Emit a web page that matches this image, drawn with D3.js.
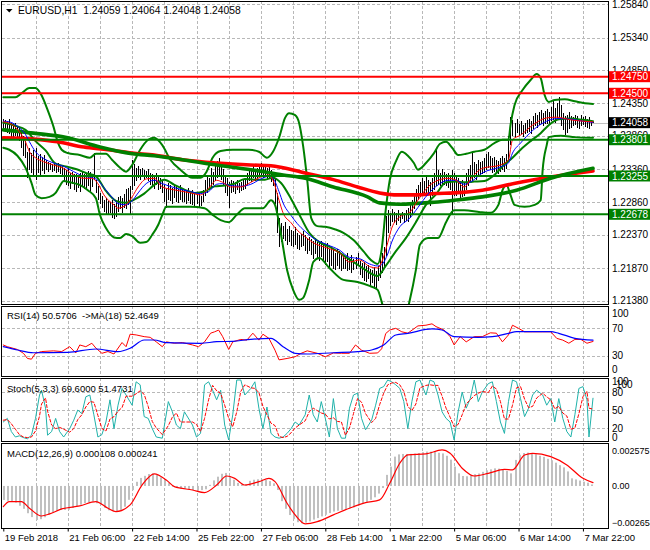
<!DOCTYPE html>
<html lang="en">
<head>
<meta charset="UTF-8">
<title>EURUSD,H1</title>
<script src="https://d3js.org/d3.v7.min.js"></script>
<style>
  body { margin: 0; background: #fff; }
  svg { display: block; font-family: "Liberation Sans", Arial, sans-serif; }
</style>
</head>
<body>
<svg id="chart" width="650" height="550"></svg>
<script>
// ---- price bars (H1, one entry per bar) ----
const barHigh = [
  1.2411,1.2410,1.2409,1.2411,1.2406,1.2404,1.2405,1.2400,1.2398,1.2392,
  1.2386,1.2378,1.2362,1.2368,1.2360,1.2364,1.2368,1.2356,1.2358,1.2354,
  1.2357,1.2350,1.2346,1.2345,1.2343,1.2344,1.2342,1.2345,1.2340,1.2341,
  1.2337,1.2334,1.2338,1.2330,1.2332,1.2328,1.2329,1.2326,1.2330,1.2332,
  1.2328,1.2330,1.2333,1.2331,1.2327,1.2360,1.2319,1.2310,1.2300,1.2296,
  1.2290,1.2292,1.2288,1.2286,1.2290,1.2284,1.2288,1.2294,1.2296,1.2292,
  1.2298,1.2306,1.2308,1.2310,1.2350,1.2344,1.2338,1.2340,1.2336,1.2337,
  1.2335,1.2333,1.2336,1.2330,1.2328,1.2326,1.2330,1.2324,1.2322,1.2320,
  1.2312,1.2306,1.2315,1.2312,1.2308,1.2314,1.2310,1.2306,1.2312,1.2308,
  1.2306,1.2304,1.2308,1.2302,1.2305,1.2300,1.2298,1.2302,1.2296,1.2305,
  1.2320,1.2326,1.2322,1.2338,1.2332,1.2342,1.2348,1.2352,1.2345,1.2336,
  1.2326,1.2322,1.2316,1.2320,1.2318,1.2316,1.2319,1.2315,1.2317,1.2320,
  1.2322,1.2330,1.2338,1.2334,1.2340,1.2336,1.2338,1.2342,1.2345,1.2340,
  1.2344,1.2338,1.2341,1.2335,1.2328,1.2322,1.2300,1.2262,1.2254,1.2250,
  1.2256,1.2246,1.2250,1.2244,1.2242,1.2248,1.2240,1.2236,1.2238,1.2242,
  1.2236,1.2232,1.2234,1.2230,1.2228,1.2232,1.2226,1.2224,1.2228,1.2222,
  1.2220,1.2224,1.2216,1.2218,1.2214,1.2210,1.2216,1.2212,1.2208,1.2206,
  1.2204,1.2209,1.2202,1.2206,1.2200,1.2204,1.2210,1.2198,1.2194,1.2196,
  1.2190,1.2192,1.2186,1.2184,1.2188,1.2182,1.2190,1.2205,1.2210,1.2218,
  1.2265,1.2274,1.2270,1.2276,1.2272,1.2270,1.2275,1.2268,1.2272,1.2270,
  1.2274,1.2278,1.2282,1.2290,1.2300,1.2306,1.2312,1.2316,1.2322,1.2318,
  1.2324,1.2320,1.2316,1.2322,1.2330,1.2365,1.2334,1.2330,1.2336,1.2332,
  1.2328,1.2330,1.2326,1.2334,1.2330,1.2326,1.2322,1.2318,1.2320,1.2316,
  1.2330,1.2336,1.2342,1.2362,1.2346,1.2344,1.2350,1.2346,1.2348,1.2352,
  1.2358,1.2362,1.2356,1.2352,1.2354,1.2350,1.2348,1.2352,1.2356,1.2352,
  1.2358,1.2385,1.2414,1.2410,1.2406,1.2412,1.2404,1.2408,1.2402,1.2406,
  1.2410,1.2412,1.2408,1.2416,1.2420,1.2418,1.2422,1.2425,1.2420,1.2424,
  1.2426,1.2422,1.2430,1.2440,1.2428,1.2436,1.2444,1.2432,1.2420,1.2416,
  1.2418,1.2422,1.2416,1.2414,1.2418,1.2416,1.2412,1.2417,1.2414,1.2416,
  1.2412,1.2414,1.2410,1.24064
];
const barLow = [
  1.2396,1.2394,1.2390,1.2388,1.2382,1.2384,1.2386,1.2380,1.2378,1.2368,
  1.2355,1.2352,1.2322,1.2334,1.2330,1.2326,1.2319,1.2330,1.2327,1.2333,
  1.2328,1.2334,1.2332,1.2334,1.2331,1.2333,1.2330,1.2332,1.2328,1.2325,
  1.2318,1.2312,1.2310,1.2306,1.2313,1.2304,1.2302,1.2308,1.2301,1.2310,
  1.2306,1.2304,1.2310,1.2302,1.2309,1.2319,1.2300,1.2290,1.2284,1.2278,
  1.2272,1.2268,1.2266,1.2270,1.2262,1.2260,1.2264,1.2272,1.2276,1.2270,
  1.2278,1.2276,1.2282,1.2267,1.2304,1.2310,1.2318,1.2322,1.2320,1.2324,
  1.2320,1.2322,1.2318,1.2312,1.2310,1.2306,1.2312,1.2304,1.2306,1.2300,
  1.2286,1.2277,1.2290,1.2288,1.2284,1.2292,1.2286,1.2285,1.2290,1.2286,
  1.2286,1.2284,1.2288,1.2284,1.2282,1.2280,1.2284,1.2279,1.2280,1.2286,
  1.2295,1.2300,1.2304,1.2308,1.2312,1.2318,1.2322,1.2325,1.2320,1.2310,
  1.2300,1.2296,1.2277,1.2300,1.2302,1.2298,1.2304,1.2300,1.2303,1.2305,
  1.2306,1.2312,1.2318,1.2316,1.2322,1.2318,1.2320,1.2326,1.2324,1.2322,
  1.2324,1.2320,1.2322,1.2316,1.2310,1.2284,1.2240,1.2219,1.2226,1.2230,
  1.2228,1.2222,1.2226,1.2220,1.2218,1.2222,1.2216,1.2214,1.2218,1.2220,
  1.2212,1.2208,1.2212,1.2206,1.2200,1.2208,1.2202,1.2198,1.2204,1.2196,
  1.2192,1.2196,1.2188,1.2190,1.2186,1.2184,1.2190,1.2186,1.2182,1.2186,
  1.2186,1.2182,1.2184,1.2180,1.2184,1.2186,1.2190,1.2176,1.2172,1.2168,
  1.2166,1.2170,1.2160,1.2164,1.2156,1.2154,1.2168,1.2172,1.2180,1.2188,
  1.2205,1.2240,1.2250,1.2256,1.2254,1.2252,1.2258,1.2255,1.2260,1.2254,
  1.2258,1.2256,1.2262,1.2268,1.2276,1.2282,1.2290,1.2294,1.2298,1.2296,
  1.2300,1.2298,1.2280,1.2296,1.2304,1.2310,1.2312,1.2310,1.2314,1.2312,
  1.2310,1.2308,1.2304,1.2267,1.2296,1.2296,1.2298,1.2290,1.2294,1.2296,
  1.2304,1.2310,1.2316,1.2318,1.2322,1.2320,1.2326,1.2324,1.2328,1.2330,
  1.2334,1.2338,1.2334,1.2330,1.2332,1.2330,1.2328,1.2332,1.2334,1.2332,
  1.2336,1.2350,1.2372,1.2386,1.2384,1.2390,1.2386,1.2388,1.2384,1.2388,
  1.2390,1.2392,1.2388,1.2396,1.2400,1.2398,1.2402,1.2404,1.2400,1.2404,
  1.2404,1.2402,1.2408,1.2410,1.2406,1.2412,1.2414,1.2400,1.2394,1.2387,
  1.2390,1.2396,1.2398,1.2400,1.2402,1.2398,1.2396,1.2400,1.2402,1.2399,
  1.2398,1.2396,1.2400,1.24048
];
const title = "EURUSD,H1  1.24059 1.24064 1.24048 1.24058";
const bidPrice = 1.24058;

// horizontal levels drawn on the chart
const levelPrices = [1.24750, 1.24500, 1.23801, 1.23255, 1.22678];
const levelKinds  = ["res", "res", "sup", "sup", "sup"];

// price axis ticks
const priceTicks = [1.25840, 1.25340, 1.24850, 1.24350, 1.23860, 1.23360, 1.22860, 1.22370, 1.21870, 1.21380];

// time axis
const timeIdx = [0, 32, 64, 96, 128, 160, 192, 224, 256, 288];
const timeLabels = ["19 Feb 2018", "21 Feb 06:00", "22 Feb 14:00", "25 Feb 22:00", "27 Feb 06:00",
                    "28 Feb 14:00", "1 Mar 22:00", "5 Mar 06:00", "6 Mar 14:00", "7 Mar 22:00"];

// fast moving averages (thin red / thin blue)
const fastIdx = [0,3,8,11,13,16,20,25,30,35, 40,44,47,50,55,57,61,64,67,71, 75,79,86,93,98,102,106,109,113,118,
  123,128,132,134,137,139,143,146,150,154, 161,167,172,177,182,186,188,191,193,197, 202,206,211,216,221,225,229,233,238,247,
  251,253,257,263,270,275,282,288,293];
const fastRed = [1.2407,1.2405,1.2392,1.2377,1.2362,1.2353,1.2347,1.2342,1.2337,1.2327,
  1.2322,1.2322,1.2314,1.2297,1.2282,1.2277,1.2282,1.2294,1.2309,1.2321,
  1.2322,1.2309,1.2304,1.2300,1.2297,1.2307,1.2319,1.2316,1.2309,1.2309,
  1.2316,1.2324,1.2327,1.2319,1.2289,1.2270,1.2255,1.2244,1.2234,1.2225,
  1.2217,1.2210,1.2196,1.2199,1.2189,1.2187,1.2196,1.2225,1.2247,1.2264,
  1.2271,1.2289,1.2309,1.2319,1.2322,1.2319,1.2309,1.2324,1.2337,1.2342,
  1.2350,1.2380,1.2387,1.2402,1.2413,1.2414,1.2410,1.2408,1.2407];
const fastBlue = [1.2408,1.2407,1.2398,1.2388,1.2377,1.2362,1.2352,1.2345,1.2340,1.2332,
  1.2325,1.2323,1.2319,1.2308,1.2290,1.2284,1.2282,1.2288,1.2300,1.2314,
  1.2319,1.2314,1.2307,1.2302,1.2299,1.2302,1.2313,1.2314,1.2311,1.2310,
  1.2313,1.2321,1.2325,1.2322,1.2302,1.2285,1.2266,1.2254,1.2242,1.2232,
  1.2222,1.2214,1.2203,1.2201,1.2193,1.2190,1.2192,1.2208,1.2226,1.2249,
  1.2262,1.2278,1.2298,1.2312,1.2319,1.2319,1.2313,1.2318,1.2330,1.2339,
  1.2345,1.2360,1.2375,1.2394,1.2408,1.2412,1.2411,1.2408,1.2406];

// Bollinger bands
const bbUpIdx = [0,6,9,13,16,19,22,25,27,29, 32,38,43,46,51,54,58,61,64,68, 72,75,79,83,88,94,98,101,104,108,
  114,122,127,131,134,137,140,142,145,147, 149,151,153,156,160,165,169,174,179,183, 186,188,190,192,195,198,201,204,206,210,
  214,217,220,223,226,230,234,239,244,248, 251,252,254,258,262,265,267,269,271,274, 279,284,289,293];
const bbUpVal = [1.2444,1.2444,1.2450,1.2458,1.2458,1.2447,1.2425,1.2399,1.2377,1.2365,
  1.2360,1.2357,1.2353,1.2359,1.2359,1.2350,1.2338,1.2332,1.2342,1.2365,
  1.2380,1.2383,1.2372,1.2350,1.2335,1.2323,1.2323,1.2332,1.2353,1.2363,
  1.2365,1.2365,1.2362,1.2353,1.2362,1.2383,1.2413,1.2420,1.2417,1.2405,
  1.2370,1.2320,1.2262,1.2250,1.2249,1.2245,1.2240,1.2229,1.2212,1.2198,
  1.2193,1.2215,1.2274,1.2319,1.2347,1.2362,1.2356,1.2345,1.2335,1.2345,
  1.2360,1.2374,1.2377,1.2368,1.2357,1.2359,1.2362,1.2365,1.2375,1.2380,
  1.2380,1.2402,1.2432,1.2455,1.2470,1.2479,1.2473,1.2447,1.2437,1.2440,
  1.2441,1.2438,1.2435,1.2434];
const bbMidIdx = [0,6,11,16,21,26,31,36,41,46, 51,56,61,65,70,75,80,85,90,95, 100,105,110,115,120,125,130,134,138,143,
  148,152,157,162,167,172,177,182,186,190, 195,200,205,210,215,220,225,229,234,239, 244,249,253,257,262,267,271,276,282,288, 293];
const bbMidVal = [1.2406,1.2401,1.2395,1.2378,1.2364,1.2344,1.2340,1.2336,1.2330,1.2325,
  1.2303,1.2288,1.2285,1.2290,1.2299,1.2312,1.2320,1.2312,1.2305,1.2300,
  1.2302,1.2310,1.2311,1.2314,1.2321,1.2320,1.2320,1.2323,1.2315,1.2291,
  1.2262,1.2240,1.2226,1.2219,1.2210,1.2200,1.2190,1.2180,1.2175,1.2190,
  1.2212,1.2232,1.2256,1.2282,1.2298,1.2316,1.2317,1.2316,1.2317,1.2318,
  1.2327,1.2343,1.2353,1.2365,1.2378,1.2390,1.2402,1.2411,1.2412,1.2410,
  1.2408];
const bbLoIdx = [0,3,7,11,14,16,19,23,26,28, 30,33,38,42,46,48,51,55,58,61, 64,68,71,74,77,79,81,85,93,100,
  104,108,112,116,120,129,133,135,138,141, 144,147,149,152,154,157,162,169,176,182, 186,188,190,195,200,202,205,207,211,216,
  220,224,229,237,242,246,248,250,252,254, 259,264,267,268,270,271,277,284,293];
const bbLoVal = [1.2368,1.2365,1.2356,1.2338,1.2315,1.2297,1.2292,1.2294,1.2300,1.2310,
  1.2318,1.2316,1.2312,1.2304,1.2292,1.2267,1.2247,1.2233,1.2232,1.2238,
  1.2235,1.2225,1.2226,1.2237,1.2252,1.2267,1.2279,1.2279,1.2279,1.2277,
  1.2267,1.2259,1.2256,1.2267,1.2277,1.2277,1.2289,1.2282,1.2237,1.2184,
  1.2154,1.2139,1.2142,1.2169,1.2196,1.2202,1.2187,1.2169,1.2166,1.2160,
  1.2154,1.2136,1.2116,1.2109,1.2116,1.2139,1.2184,1.2222,1.2232,1.2232,
  1.2256,1.2274,1.2274,1.2271,1.2270,1.2282,1.2304,1.2312,1.2297,1.2282,
  1.2279,1.2282,1.2289,1.2335,1.2372,1.2384,1.2386,1.2384,1.2383];

// slow moving averages (thick red / thick green)
const slowRedIdx = [0,15,27,40,52,64,75,89,106,123,133,139,150,164,176,187,196,206,214,224,238,255,272,293];
const slowRedVal = [1.2383,1.2381,1.2377,1.2369,1.2365,1.2360,1.2357,1.2350,1.2345,1.2342,1.2341,1.2338,
  1.2330,1.2320,1.2309,1.2300,1.2297,1.2297,1.2299,1.2300,1.2304,1.2315,1.2324,1.2333];
const slowGreenIdx = [0,15,32,48,64,75,89,106,123,139,150,164,181,187,197,214,224,238,255,272,293];
const slowGreenVal = [1.2395,1.2390,1.2383,1.2369,1.2359,1.2356,1.2350,1.2342,1.2335,1.2327,1.2322,
  1.2309,1.2294,1.2285,1.2283,1.2286,1.2289,1.2294,1.2304,1.2322,1.2337];

// RSI(14) and its MA(18)
const rsiIdx = [0,2,7,10,12,14,16,19,25,29, 33,36,38,41,44,46,49,52,55,59, 61,63,66,70,73,76,79,81,85,89,
  94,97,100,103,105,107,109,112,114,118, 121,124,127,129,132,135,137,141,145,148, 151,156,160,164,168,172,175,178,182,186,
  188,190,192,195,198,201,206,210,213,215, 219,222,224,227,230,234,238,242,245,248, 251,253,256,259,263,268,272,275,278,281,
  284,287,290,293];
const rsiVal = [45.5,43,39,33.5,26,25,33.5,36,37,36, 43,34,45.5,43,48,41,33.5,36,32.5,49,
  43,61,60,57.5,56.5,50,43,50,48,49, 45.5,43,50,62.5,64.5,67,57.5,39,50,53.5,
  52.5,62.5,52.5,61,55,38,24,26,28.5,33.5, 37,33.5,28.5,34,33.5,33.5,45.5,38,33.5,34,
  40,62,67,69.5,64.5,62.5,73,74,76,72, 67,57.5,45.5,57.5,50,57.5,57.5,63,62.5,50,
  60,74,69.5,64.5,64.5,64.5,64.5,55,52.5,48, 53.5,53.5,48,50.57];
const rsiMaIdx = [0,7,15,32,46,57,63,70,75,81, 98,106,114,123,133,139,145,151,164,176,
  183,189,195,201,213,218,224,236,243,251, 255,259,272,276,284,293];
const rsiMaVal = [43,38.2,34.3,34.9,39.7,35.8,40.7,52.7,52.7,48.8, 47.9,50.2,50.8,53.7,55.1,43,33.5,32.5,34.3,35.8,
  38.2,45.5,59.9,62.3,68.6,67.1,57.4,56.6,57.4,62.3, 64.7,64.7,64.7,62.3,55.1,52.46];

// Stochastic(5,3,3)
const stochIdx = [0,2,4,6,8,10,12,14,16,18, 19,21,22,24,26,28,30,33,35,37, 39,41,43,45,47,49,51,53,55,57,
  59,61,64,66,68,70,72,74,76,79, 82,84,86,88,90,94,96,98,100,102, 104,106,108,110,112,114,116,118,120,123,
  125,127,129,131,133,135,137,139,141,143, 145,147,150,152,154,156,158,160,162,164, 166,168,170,172,174,176,178,180,183,185,
  187,189,191,193,195,197,199,201,203,205, 207,210,212,214,216,218,220,222,224,226, 228,230,232,234,236,238,241,243,245,247,
  249,251,253,255,257,259,261,263,265,268, 270,272,274,276,278,280,282,284,286,288, 290,291,293];
const stochMain = [30,36,14,5,7,4,2,8,36,75, 83,53,8,14,36,14,5,19,33,50, 44,72,75,42,5,9,30,67,19,58,
  86,75,58,97,92,39,36,19,5,3, 64,47,25,19,47,25,5,11,92,97, 83,67,83,25,0,42,100,100,75,86,
  97,53,19,55,11,5,3,5,11,19, 30,25,42,75,42,30,64,36,5,69, 19,3,3,53,75,78,36,17,33,58,
  86,89,100,97,92,86,64,19,64,97, 100,75,100,97,75,47,36,30,0,47, 80,53,69,100,64,80,94,97,64,30,
  11,64,100,97,69,39,53,75,83,75, 58,69,30,69,36,14,5,42,86,89, 67,5,69.6];
const stochSignal = [33,34,27,18,9,5,4,5,15,40, 60,70,48,25,19,21,18,13,19,34, 42,55,64,63,41,19,15,35,39,48,
  54,73,73,77,82,76,56,31,20,9, 24,38,45,30,30,30,26,14,36,67, 91,82,78,58,36,22,47,81,92,87,
  86,79,56,42,28,24,6,4,6,12, 20,25,32,47,53,49,45,43,35,37, 31,30,8,20,44,69,63,44,29,36,
  59,78,92,95,96,92,81,56,49,60, 87,91,92,91,91,73,53,38,22,26, 42,60,67,74,78,81,79,90,85,64,
  35,35,58,87,89,68,54,56,70,78, 72,67,52,56,45,40,18,20,44,72, 81,53,51.47];

// MACD(12,26,9): histogram, one value every second bar, and signal line
const macdHist = [
  -0.00101,-0.00107,-0.00112,-0.00120,-0.00143,-0.00165,-0.00197,-0.00225,-0.00246,-0.00240,
  -0.00226,-0.00207,-0.00192,-0.00180,-0.00173,-0.00173,-0.00171,-0.00159,-0.00147,-0.00135,
  -0.00124,-0.00118,-0.00113,-0.00125,-0.00137,-0.00158,-0.00176,-0.00181,-0.00185,-0.00175,
  -0.00150,-0.00100,-0.00030,0.00030,0.00058,0.00073,0.00086,0.00090,0.00079,0.00063,
  0.00045,0.00020,0.00002,-0.00010,-0.00018,-0.00022,-0.00025,-0.00030,-0.00034,-0.00030,
  -0.00024,0.00008,0.00040,0.00067,0.00088,0.00094,0.00070,0.00045,0.00022,0.00012,
  0.00012,0.00037,0.00045,0.00048,0.00046,0.00043,0.00035,0.00019,-0.00029,-0.00110,
  -0.00165,-0.00210,-0.00240,-0.00262,-0.00270,-0.00265,-0.00256,-0.00243,-0.00232,-0.00220,
  -0.00208,-0.00196,-0.00185,-0.00179,-0.00174,-0.00170,-0.00162,-0.00155,-0.00140,-0.00125,
  -0.00115,-0.00100,-0.00082,-0.00055,-0.00015,0.00080,0.00140,0.00212,0.00228,0.00231,
  0.00231,0.00232,0.00234,0.00238,0.00244,0.00248,0.00248,0.00247,0.00240,0.00235,
  0.00218,0.00190,0.00140,0.00091,0.00072,0.00070,0.00078,0.00085,0.00090,0.00102,
  0.00113,0.00120,0.00127,0.00125,0.00118,0.00108,0.00091,0.00188,0.00225,0.00238,
  0.00241,0.00236,0.00229,0.00218,0.00210,0.00196,0.00186,0.00168,0.00150,0.00134,
  0.00105,0.00055,0.00047,0.00039,0.00031,0.00024,0.00011];
const macdSigIdx = [0,3,9,13,19,23,29,38,46,52, 56,63,69,75,81,85,94,100,106,111,
  115,120,127,132,135,141,145,150,156,164, 172,180,187,192,197,201,210,218,222,228,
  234,241,249,253,259,263,272,280,288,293];
const macdSigVal = [-0.00149,-0.00113,-0.00113,-0.00161,-0.00217,-0.00202,-0.00166,-0.00144,-0.00113,-0.00161,
  -0.00185,-0.00137,0.00007,0.00087,0.00043,-0.00005,-0.00029,-0.00048,0.00007,0.00072,
  0.00055,0.00007,0.00031,0.00055,0.00031,-0.00125,-0.00209,-0.00274,-0.00258,-0.00209,
  -0.00161,-0.00120,-0.00101,0.00019,0.00164,0.00224,0.00231,0.00260,0.00236,0.00128,
  0.00072,0.00091,0.00120,0.00116,0.00224,0.00236,0.00212,0.00152,0.00055,0.00024];
const macdTicks = [0.002575, 0, -0.002654];

// ---------------- drawing ----------------
const svg = d3.select('#chart');
const gridColor = '#b8b8b8';
const fontFamily = '"Liberation Sans", Arial, sans-serif';
const levelColor = {res: '#ff0000', sup: '#008000'};

const x = d3.scaleLinear().domain([0, 293]).range([3.3, 593]);
const yMain  = d3.scaleLinear().domain([1.2138, 1.2584]).range([300.5, 4.3]);
const yRsi   = d3.scaleLinear().domain([0, 100]).range([376.5, 307.2]);
const yStoch = d3.scaleLinear().domain([0, 100]).range([440, 380]);
const yMacd  = d3.scaleLinear().domain([-0.002654, 0.002575]).range([522.7, 450.3]);

const panels = [
  {id: 'main',  top: 1,   bottom: 304},
  {id: 'rsi',   top: 306, bottom: 376},
  {id: 'stoch', top: 378, bottom: 441},
  {id: 'macd',  top: 443, bottom: 528}
];
const right = 608;
const defs = svg.append('defs');
const layer = {};
panels.forEach(p => {
  defs.append('clipPath').attr('id', 'clip-' + p.id)
    .append('rect').attr('x', 2).attr('y', p.top + 1).attr('width', right - 2).attr('height', p.bottom - p.top - 1);
  layer[p.id] = svg.append('g').attr('clip-path', `url(#clip-${p.id})`);
  // vertical grid every 16 bars
  d3.range(16, 294, 16).forEach(i => {
    const gx = Math.round(x(i)) + 0.5;
    layer[p.id].append('line').attr('x1', gx).attr('x2', gx).attr('y1', p.top).attr('y2', p.bottom)
      .attr('stroke', gridColor).attr('stroke-dasharray', '3,2').attr('shape-rendering', 'crispEdges');
  });
});

function hGrid(g, yv) {
  const gy = Math.round(yv) + 0.5;
  g.append('line').attr('x1', 2).attr('x2', right).attr('y1', gy).attr('y2', gy)
    .attr('stroke', gridColor).attr('stroke-dasharray', '3,2').attr('shape-rendering', 'crispEdges');
}
priceTicks.forEach(p => hGrid(layer.main, yMain(p)));
[70, 30].forEach(v => hGrid(layer.rsi, yRsi(v)));
[80, 50, 20].forEach(v => hGrid(layer.stoch, yStoch(v)));

function drawLine(g, idx, vals, yScale, color, width, curve, dash) {
  const line = d3.line().x(d => x(d[0])).y(d => yScale(d[1])).curve(curve || d3.curveLinear);
  g.append('path').datum(idx.map((d, k) => [d, vals[k]]))
    .attr('d', line).attr('fill', 'none').attr('stroke', color).attr('stroke-width', width)
    .attr('stroke-linejoin', 'round').attr('stroke-linecap', 'round')
    .attr('stroke-dasharray', dash || null);
}

// ---- main panel ----
const m = layer.main;
const bidY = Math.round(yMain(bidPrice)) + 0.5;
m.append('line').attr('x1', 2).attr('x2', right).attr('y1', bidY).attr('y2', bidY)
  .attr('stroke', '#c0c0c0').attr('shape-rendering', 'crispEdges');

m.append('g').selectAll('line').data(barHigh).join('line')
  .attr('x1', (d, i) => Math.round(x(i)) + 0.5).attr('x2', (d, i) => Math.round(x(i)) + 0.5)
  .attr('y1', d => yMain(d)).attr('y2', (d, i) => Math.max(yMain(barLow[i]), yMain(d) + 1))
  .attr('stroke', '#000').attr('stroke-width', 1).attr('shape-rendering', 'crispEdges');

const smooth = d3.curveMonotoneX;
drawLine(m, bbUpIdx, bbUpVal, yMain, '#008000', 2, smooth);
drawLine(m, bbLoIdx, bbLoVal, yMain, '#008000', 2, smooth);
drawLine(m, bbMidIdx, bbMidVal, yMain, '#008000', 2, smooth);
drawLine(m, slowRedIdx, slowRedVal, yMain, '#ff0000', 3.6, smooth);
drawLine(m, slowGreenIdx, slowGreenVal, yMain, '#008000', 3.6, smooth);
drawLine(m, fastIdx, fastBlue, yMain, '#0000ff', 1, smooth);
drawLine(m, fastIdx, fastRed, yMain, '#ff0000', 1, smooth);

levelPrices.forEach((p, k) => {
  m.append('line').attr('x1', 2).attr('x2', right).attr('y1', yMain(p)).attr('y2', yMain(p))
    .attr('stroke', levelColor[levelKinds[k]]).attr('stroke-width', 2);
});

// title
svg.append('path').attr('d', 'M6,9 L12.5,9 L9.25,12.5 Z').attr('fill', '#000');
svg.append('text').attr('x', 18).attr('y', 14).attr('font-size', 10.3).attr('fill', '#000')
  .attr('font-family', fontFamily).style('white-space', 'pre').text(title);

// price axis
const axMain = svg.append('g').attr('transform', `translate(${right},0)`)
  .call(d3.axisRight(yMain).tickValues(priceTicks).tickFormat(d3.format('.5f')).tickSize(0).tickPadding(4));
function styleAxis(g, size) {
  g.select('.domain').remove();
  g.attr('font-family', fontFamily).attr('font-size', size || 10);
  g.selectAll('text').attr('fill', '#000');
}
styleAxis(axMain);

// price boxes on the axis
const boxes = levelPrices.map((p, k) => ({p, c: levelColor[levelKinds[k]]}));
boxes.push({p: bidPrice, c: '#000'});
boxes.forEach(b => {
  const by = yMain(b.p);
  svg.append('rect').attr('x', 609).attr('y', by - 5.5).attr('width', 41).attr('height', 11).attr('fill', b.c);
  svg.append('text').attr('x', 612).attr('y', by + 3.6).attr('font-size', 10).attr('fill', '#fff')
    .attr('font-family', fontFamily).text(d3.format('.5f')(b.p));
});

// ---- RSI panel ----
const r = layer.rsi;
drawLine(r, rsiIdx, rsiVal, yRsi, '#ff0000', 1);
drawLine(r, rsiMaIdx, rsiMaVal, yRsi, '#0000ff', 1.2, smooth);
svg.append('text').attr('x', 7).attr('y', 319).attr('font-size', 9.5).attr('font-family', fontFamily)
  .style('white-space', 'pre').text('RSI(14) 50.5706  ->MA(18) 52.4649');
const axRsi = svg.append('g').attr('transform', `translate(${right},0)`)
  .call(d3.axisRight(yRsi).tickValues([70, 30]).tickSize(0).tickPadding(4));
styleAxis(axRsi);
[[100, 6], [0, -7]].forEach(([v, off]) => {
  svg.append('text').attr('x', right + 4).attr('y', yRsi(v) + off + 3.5).attr('font-size', 10)
    .attr('font-family', fontFamily).text(v);
});

// ---- Stochastic panel ----
const s = layer.stoch;
drawLine(s, stochIdx, stochMain, yStoch, '#20b2aa', 1);
drawLine(s, stochIdx, stochSignal, yStoch, '#ff0000', 1, d3.curveLinear, '3,2');
svg.append('text').attr('x', 7).attr('y', 391.5).attr('font-size', 9.5).attr('font-family', fontFamily)
  .text('Stoch(5,3,3) 69.6000 51.4731');
const axSt = svg.append('g').attr('transform', `translate(${right},0)`)
  .call(d3.axisRight(yStoch).tickValues([80, 50, 20]).tickSize(0).tickPadding(4));
styleAxis(axSt);
[[100, 4, 1], [100, 8, 4], [0, 4, -3]].forEach(([v, dx, off]) => {
  svg.append('text').attr('x', right + dx).attr('y', yStoch(v) + off + 3.5).attr('font-size', 10)
    .attr('font-family', fontFamily).text(v);
});

// ---- MACD panel ----
const g4 = layer.macd;
g4.append('g').selectAll('rect').data(macdHist).join('rect')
  .attr('x', (d, k) => Math.round(x(k * 2)))
  .attr('width', 2)
  .attr('y', d => Math.min(yMacd(d), yMacd(0)))
  .attr('height', d => Math.max(1, Math.abs(yMacd(d) - yMacd(0))))
  .attr('fill', '#c0c0c0');
drawLine(g4, macdSigIdx, macdSigVal, yMacd, '#ff0000', 1.2, smooth);
svg.append('text').attr('x', 7).attr('y', 456.5).attr('font-size', 9.5).attr('font-family', fontFamily)
  .text('MACD(12,26,9) 0.000108 0.000241');
const axMacd = svg.append('g').attr('transform', `translate(${right},0)`)
  .call(d3.axisRight(yMacd).tickValues(macdTicks).tickSize(0).tickPadding(4)
    .tickFormat(d => d === 0 ? '0.00' : d3.format('.6f')(d)));
styleAxis(axMacd, 9);

// ---- frames ----
panels.forEach(p => {
  svg.append('rect').attr('x', 1.5).attr('y', p.top + 0.5).attr('width', right - 1.5).attr('height', p.bottom - p.top)
    .attr('fill', 'none').attr('stroke', '#000').attr('shape-rendering', 'crispEdges');
});

// ---- time axis ----
const axTime = svg.append('g').attr('transform', 'translate(0,528.5)')
  .call(d3.axisBottom(x).tickValues(timeIdx).tickFormat((d, k) => timeLabels[k]).tickSize(3).tickPadding(3));
axTime.select('.domain').remove();
axTime.attr('font-family', fontFamily).attr('font-size', 9.5);
axTime.selectAll('text').attr('fill', '#000').attr('text-anchor', 'start').attr('x', 1);
axTime.selectAll('line').attr('stroke', '#000');
</script>
</body>
</html>
